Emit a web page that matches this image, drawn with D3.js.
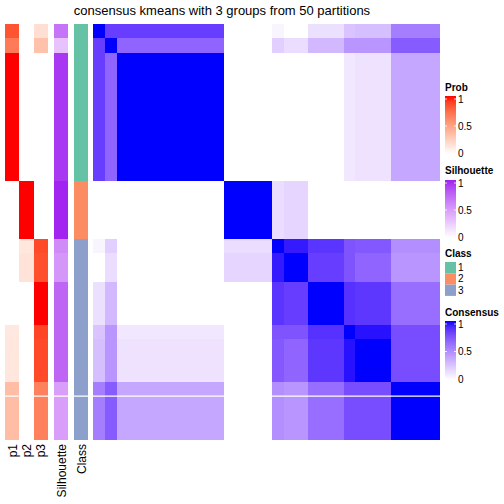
<!DOCTYPE html>
<html><head><meta charset="utf-8">
<script src="https://cdn.jsdelivr.net/npm/d3@7"></script>
<style>body{margin:0;background:#fff}svg{display:block}text{font-family:"Liberation Sans",Arial,Helvetica,sans-serif}</style>
</head><body>
<script>
// ---- data (per block of samples, blocks in display order) ----
const blockSizes = [1, 1, 9, 4, 1, 2, 3, 1, 3, 4];
const blockClass = [1, 1, 1, 2, 3, 3, 3, 3, 3, 3];
const blockP1 = [0.83, 0.67, 1, 0, 0, 0, 0, 0.12, 0.13, 0.35];
const blockP2 = [0, 0, 0, 1, 0.13, 0.15, 0, 0, 0, 0];
const blockP3 = [0.17, 0.33, 0, 0, 0.87, 0.85, 1, 0.88, 0.87, 0.65];
const blockSil = [0.68, 0.3, 0.93, 0.99, 0.57, 0.52, 0.75, 0.75, 0.75, 0.48];
const consensus = [
  [1,    0.82, 0.82, 0,    0.04, 0,    0.13, 0.25, 0.27, 0.55],
  [0.82, 1,    0.66, 0,    0.2,  0.14, 0.3,  0.45, 0.45, 0.7 ],
  [0.82, 0.66, 1,    0,    0,    0,    0,    0.1,  0.12, 0.37],
  [0,    0,    0,    1,    0.14, 0.17, 0,    0,    0,    0   ],
  [0.04, 0.2,  0,    0.14, 1,    0.95, 0.86, 0.73, 0.71, 0.48],
  [0,    0.14, 0,    0.17, 0.95, 1,    0.82, 0.73, 0.66, 0.45],
  [0.13, 0.3,  0,    0,    0.86, 0.82, 1,    0.87, 0.85, 0.62],
  [0.25, 0.45, 0.1,  0,    0.73, 0.73, 0.87, 1,    0.97, 0.76],
  [0.27, 0.45, 0.12, 0,    0.71, 0.66, 0.85, 0.97, 1,    0.76],
  [0.55, 0.7,  0.37, 0,    0.48, 0.45, 0.62, 0.76, 0.76, 1   ]
];
const classNames = ["1", "2", "3"];
const classColors = ["#66C2A5", "#FC8D62", "#8DA0CB"];
const legendTicks = [0, 0.5, 1];
const annNames = ["p1", "p2", "p3", "Silhouette", "Class"];
const titleText = "consensus kmeans with 3 groups from 50 partitions";

(function () {
// ---- expand blocks into samples ----
const samples = [];
blockSizes.forEach((n, b) => { for (let k = 0; k < n; k++) samples.push(b); });
const N = samples.length;

const W = 504, H = 504;
const svg = d3.select("body").append("svg").attr("width", W).attr("height", H);

const probCol = d3.scaleLinear().domain([0, 1]).range(["#FFFFFF", "#FF0000"]).interpolate(d3.interpolateLab);
const silCol = d3.scaleLinear().domain([0, 1]).range(["#FFFFFF", "#A020F0"]).interpolate(d3.interpolateLab);
const consCol = d3.scaleLinear().domain([0, 1]).range(["#FFFFFF", "#0000FF"]).interpolate(d3.interpolateLab);
const clsCol = d3.scaleOrdinal().domain([1, 2, 3]).range(classColors);

const yTop = 24, yBot = 439;
const y = d3.scaleBand().domain(d3.range(N)).range([yTop, yBot]);
const x = d3.scaleBand().domain(d3.range(N)).range([93, 439]);
const pX = d3.scaleBand().domain(["p1", "p2", "p3"]).range([5, 48]);
const annX = { p1: [pX("p1"), pX.bandwidth()], p2: [pX("p2"), pX.bandwidth()], p3: [pX("p3"), pX.bandwidth()],
               Silhouette: [54, 14], Class: [74, 14] };

const annFill = {
  p1: i => probCol(blockP1[samples[i]]),
  p2: i => probCol(blockP2[samples[i]]),
  p3: i => probCol(blockP3[samples[i]]),
  Silhouette: i => silCol(blockSil[samples[i]]),
  Class: i => clsCol(blockClass[samples[i]])
};

const gAnn = svg.append("g").attr("shape-rendering", "crispEdges");
annNames.forEach(nm => {
  gAnn.selectAll(null).data(d3.range(N)).join("rect")
    .attr("x", annX[nm][0]).attr("width", annX[nm][1])
    .attr("y", i => y(i)).attr("height", y.bandwidth() + 0.6)
    .attr("fill", i => annFill[nm](i));
});

// consensus matrix
const cells = [];
for (let i = 0; i < N; i++) for (let j = 0; j < N; j++) cells.push([i, j]);
svg.append("g").attr("shape-rendering", "crispEdges")
  .selectAll("rect").data(cells).join("rect")
  .attr("x", d => x(d[1])).attr("y", d => y(d[0]))
  .attr("width", x.bandwidth() + 0.6).attr("height", y.bandwidth() + 0.6)
  .attr("fill", d => consCol(consensus[samples[d[0]]][samples[d[1]]]));

// white separator line
svg.append("line").attr("x1", 0).attr("x2", 440)
  .attr("y1", y(26)).attr("y2", y(26))
  .attr("stroke", "#fff").attr("stroke-width", 1.3);

// bottom labels
annNames.forEach(nm => {
  const cx = annX[nm][0] + annX[nm][1] / 2;
  svg.append("text").text(nm)
    .attr("transform", `translate(${cx + 4.5},444) rotate(-90)`)
    .attr("text-anchor", "end").attr("font-size", 12).attr("fill", "#000");
});

// title
svg.append("text").text(titleText).attr("x", 222).attr("y", 15)
  .attr("text-anchor", "middle").attr("font-size", 13).attr("fill", "#000");

// legends
const defs = svg.append("defs");
function contLegend(id, title, ty, barTop, barBot, scale) {
  const grad = defs.append("linearGradient").attr("id", id)
    .attr("x1", 0).attr("y1", 1).attr("x2", 0).attr("y2", 0);
  d3.range(0, 1.0001, 0.1).forEach(t => grad.append("stop").attr("offset", t).attr("stop-color", scale(t)));
  svg.append("text").text(title).attr("x", 445).attr("y", ty)
    .attr("font-size", 10).attr("font-weight", "bold");
  svg.append("rect").attr("x", 445).attr("y", barTop).attr("width", 11).attr("height", barBot - barTop)
    .attr("fill", `url(#${id})`);
  const ly = d3.scaleLinear().domain([0, 1]).range([barBot - 1, barTop + 3]);
  legendTicks.forEach(t => {
    svg.append("line").attr("x1", 445).attr("x2", 447).attr("y1", ly(t)).attr("y2", ly(t))
      .attr("stroke", "#fff").attr("stroke-width", 1).attr("opacity", 0.8);
    svg.append("line").attr("x1", 454).attr("x2", 456).attr("y1", ly(t)).attr("y2", ly(t))
      .attr("stroke", "#fff").attr("stroke-width", 1).attr("opacity", 0.8);
    svg.append("text").text(t === 0.5 ? "0.5" : String(t)).attr("x", 458).attr("y", ly(t))
      .attr("dy", "0.35em").attr("font-size", 10);
  });
}
contLegend("gp", "Prob", 91, 96, 154, probCol);
contLegend("gs", "Silhouette", 174, 180, 238, silCol);
// class legend
svg.append("text").text("Class").attr("x", 445).attr("y", 257).attr("font-size", 10).attr("font-weight", "bold");
classNames.forEach((c, k) => {
  svg.append("rect").attr("x", 445).attr("y", 262 + k * 11.3).attr("width", 11).attr("height", 11.3)
    .attr("fill", classColors[k]);
  svg.append("text").text(c).attr("x", 458).attr("y", 262 + k * 11.3 + 5.65).attr("dy", "0.35em").attr("font-size", 10);
});
contLegend("gc", "Consensus", 316, 321, 380, consCol);
})();
</script>
</body></html>
